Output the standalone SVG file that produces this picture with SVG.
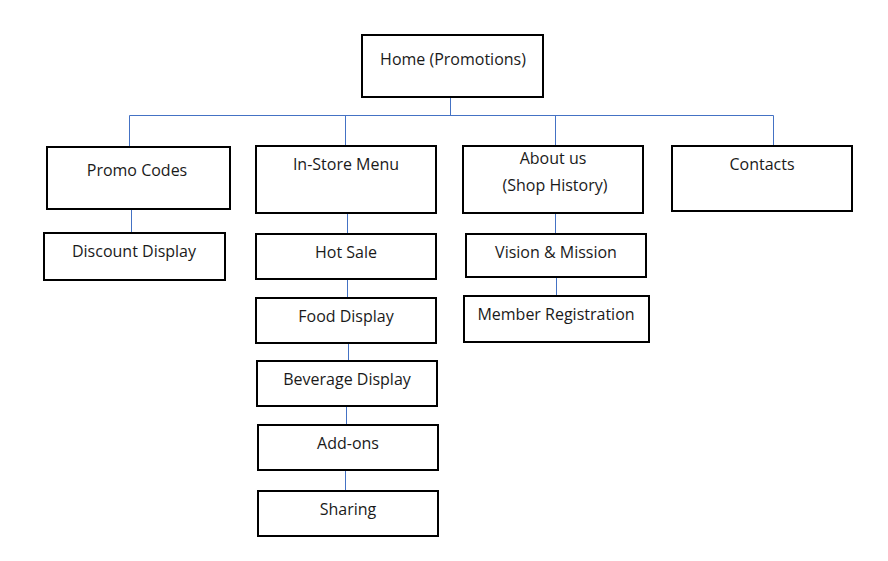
<svg xmlns="http://www.w3.org/2000/svg" width="888" height="561" viewBox="0 0 888 561">
<style>
.box{fill:#fff;stroke:#000;stroke-width:2}
.t{font-family:"Open Sans","Liberation Sans",sans-serif;font-size:16px;fill:#1a1a1a;text-anchor:middle}
.c{stroke:#4472C4;stroke-width:1;fill:none}
</style>
<rect width="888" height="561" fill="#fff"/>
<g id="connectors">
<path class="c" d="M450.5 97V115.5M129.5 115.5H773.5M129.5 115.5V147M345.5 115.5V146M555.5 115.5V146M773.5 115.5V146"/>
<path class="c" d="M131.5 209V233"/>
<path class="c" d="M347.5 213V234M347.5 279V298M348.5 343V361M346.5 406V425M345.5 470V491"/>
<path class="c" d="M555.5 213V234M556.5 277V296"/>
</g>
<g id="home"><rect class="box" x="362" y="35" width="181" height="62"/><text class="t" x="453" y="65">Home (Promotions)</text></g>
<g id="promo"><rect class="box" x="47" y="147" width="183" height="62"/><text class="t" x="137" y="176">Promo Codes</text></g>
<g id="discount"><rect class="box" x="44" y="233" width="181" height="47"/><text class="t" x="134" y="257">Discount Display</text></g>
<g id="instore"><rect class="box" x="256" y="146" width="180" height="67"/><text class="t" x="346" y="170">In-Store Menu</text></g>
<g id="hotsale"><rect class="box" x="256" y="234" width="180" height="45"/><text class="t" x="346" y="258">Hot Sale</text></g>
<g id="food"><rect class="box" x="256" y="298" width="180" height="45"/><text class="t" x="346" y="322">Food Display</text></g>
<g id="beverage"><rect class="box" x="257" y="361" width="180" height="45"/><text class="t" x="347" y="385">Beverage Display</text></g>
<g id="addons"><rect class="box" x="258" y="425" width="180" height="45"/><text class="t" x="348" y="449">Add-ons</text></g>
<g id="sharing"><rect class="box" x="258" y="491" width="180" height="45"/><text class="t" x="348" y="515">Sharing</text></g>
<g id="about"><rect class="box" x="463" y="146" width="180" height="67"/><text class="t" x="553" y="164">About us</text><text class="t" x="555" y="191">(Shop History)</text></g>
<g id="vision"><rect class="box" x="466" y="234" width="180" height="43"/><text class="t" x="556" y="258">Vision &amp; Mission</text></g>
<g id="member"><rect class="box" x="464" y="296" width="185" height="46"/><text class="t" x="556" y="320">Member Registration</text></g>
<g id="contacts"><rect class="box" x="672" y="146" width="180" height="65"/><text class="t" x="762" y="170">Contacts</text></g>
</svg>
